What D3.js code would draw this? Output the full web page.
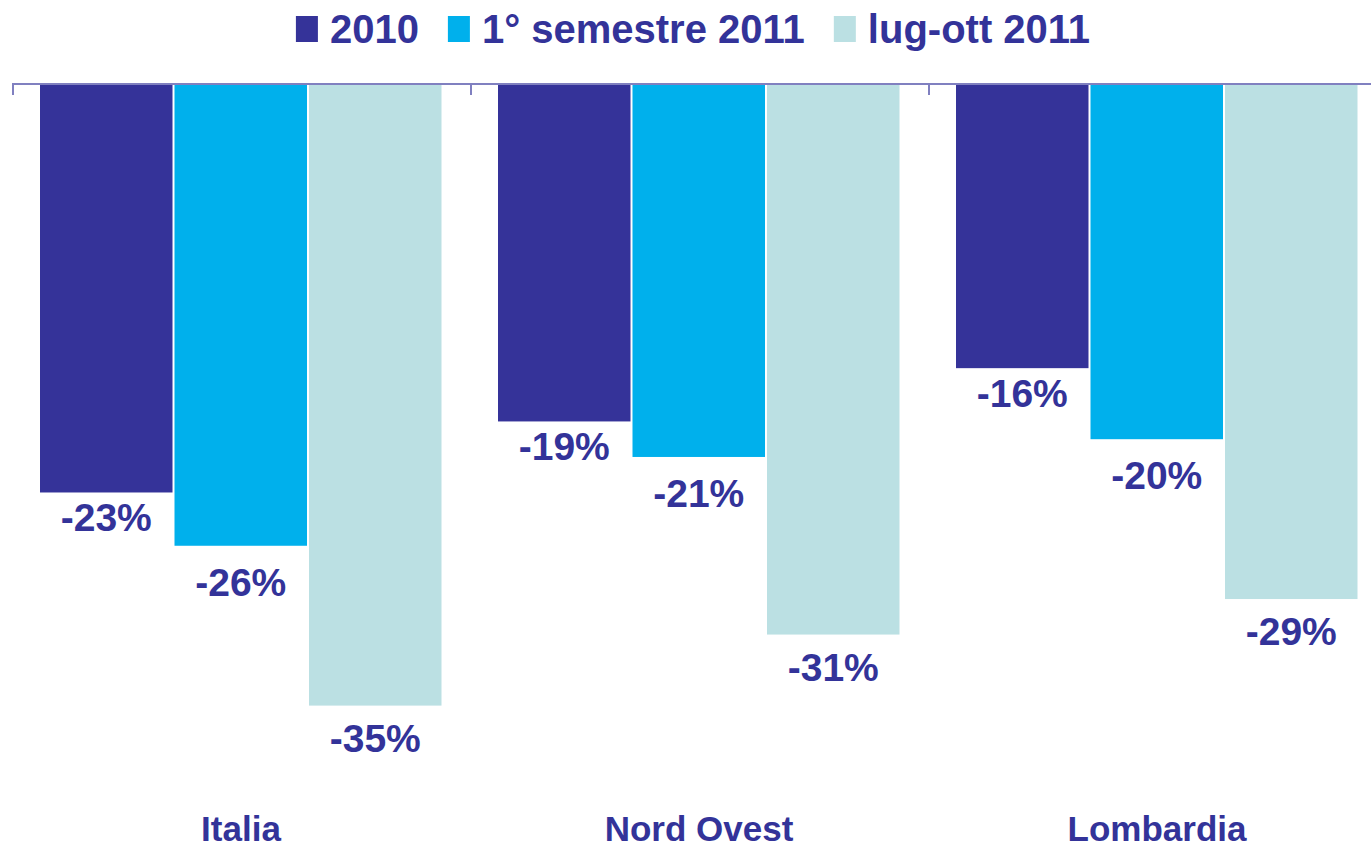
<!DOCTYPE html>
<html>
<head>
<meta charset="utf-8">
<script src="https://cdn.jsdelivr.net/npm/d3@7"></script>
<style>
  html, body { margin: 0; padding: 0; background: #fff; }
  svg { display: block; font-family: "Liberation Sans", Arial, sans-serif; font-weight: bold; }
</style>
</head>
<body>
<svg id="chart" width="1371" height="850"></svg>
<script>
// ---- data ----
const categories = ["Italia", "Nord Ovest", "Lombardia"];
const seriesNames = ["2010", "1° semestre 2011", "lug-ott 2011"];
const values2010 = [-23, -19, -16];
const valuesSem2011 = [-26, -21, -20];
const valuesLugOtt2011 = [-35, -31, -29];

// ---- styles ----
const colors = ["#353399", "#00b0ec", "#bbe0e3"];
const textColor = "#333399";
const labelOffsets = [39, 50, 46];

const seriesValues = [values2010, valuesSem2011, valuesLugOtt2011];
const svg = d3.select("#chart");

const x0 = d3.scaleBand().domain(categories).range([12, 1386]).paddingInner(0).paddingOuter(0);
const x1 = d3.scaleBand().domain(d3.range(seriesNames.length)).range([27, 27 + 403.5]);
const y = d3.scaleLinear().domain([0, -40]).range([84, 84 + 40 * 17.76]);

const fmt = v => d3.format(".0f")(v).replace("\u2212", "-") + "%";

// bars
const groups = svg.selectAll("g.cat").data(categories).join("g")
  .attr("class", "cat")
  .attr("transform", d => `translate(${x0(d)},0)`);

groups.each(function(cat, ci) {
  const g = d3.select(this);
  seriesValues.forEach((vals, si) => {
    const v = vals[ci];
    g.append("rect")
      .attr("x", x1(si) + 1)
      .attr("y", y(0))
      .attr("width", x1.bandwidth() - 2)
      .attr("height", y(v) - y(0))
      .attr("fill", colors[si]);
    g.append("text")
      .attr("x", x1(si) + x1.bandwidth() / 2)
      .attr("y", y(v) + labelOffsets[si])
      .attr("text-anchor", "middle")
      .attr("font-size", 39)
      .attr("fill", textColor)
      .text(fmt(v));
  });
  g.append("text")
    .attr("x", x0.bandwidth() / 2)
    .attr("y", 841)
    .attr("text-anchor", "middle")
    .attr("font-size", 35)
    .attr("fill", textColor)
    .text(cat);
});

// axis line at zero with ticks at category boundaries
const axisColor = "#8080c0";
svg.append("line")
  .attr("x1", x0.range()[0]).attr("x2", 1371)
  .attr("y1", y(0)).attr("y2", y(0))
  .attr("stroke", axisColor).attr("stroke-width", 2);
svg.selectAll("line.tick").data(categories).join("line")
  .attr("class", "tick")
  .attr("x1", d => x0(d) + 1).attr("x2", d => x0(d) + 1)
  .attr("y1", y(0)).attr("y2", y(0) + 11)
  .attr("stroke", axisColor).attr("stroke-width", 2);

// legend
const legend = svg.append("g");
let lx = 0;
seriesNames.forEach((name, i) => {
  const it = legend.append("g");
  it.append("rect").attr("x", 0).attr("y", 16).attr("width", 22).attr("height", 26).attr("fill", colors[i]);
  const t = it.append("text").attr("x", 34).attr("y", 43).attr("font-size", 40).attr("fill", textColor).text(name);
  const w = 34 + t.node().getComputedTextLength();
  it.attr("transform", `translate(${lx},0)`);
  lx += w + 29;
});
const totalW = lx - 29;
legend.attr("transform", `translate(${693 - totalW / 2},0)`);
</script>
</body>
</html>
